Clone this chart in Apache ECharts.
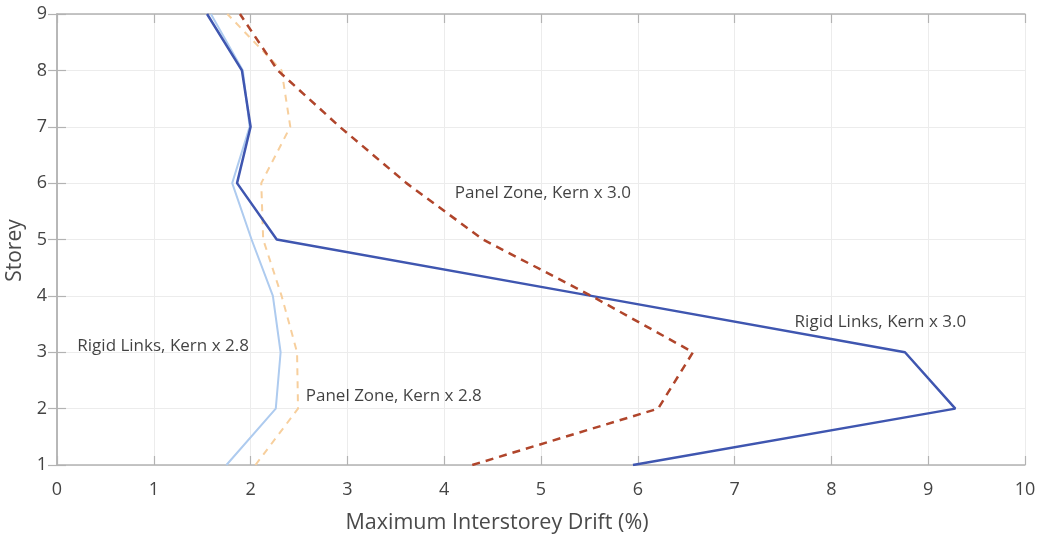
<!DOCTYPE html>
<html>
<head>
<meta charset="utf-8">
<script src="https://cdn.jsdelivr.net/npm/echarts@6/dist/echarts.min.js"></script>
<style>
html,body{margin:0;padding:0;background:#fff;}
#c{width:1037px;height:536px;}
</style>
</head>
<body>
<div id="c"></div>
<script>
// Storey levels
const storeys = [1, 2, 3, 4, 5, 6, 7, 8, 9];
// Maximum interstorey drift (%) per storey
const rigidLinks28 = [1.75, 2.26, 2.31, 2.23, 2.01, 1.81, 1.99, 1.92, 1.59];
const panelZone28  = [2.05, 2.49, 2.48, 2.32, 2.13, 2.11, 2.41, 2.32, 1.76];
const rigidLinks30 = [5.95, 9.28, 8.76, 5.52, 2.27, 1.86, 2.00, 1.91, 1.55];
const panelZone30  = [4.29, 6.21, 6.57, 5.52, 4.40, 3.61, 2.92, 2.28, 1.89];
// Annotation labels: [x, storey, text]
const annotations = [
  [4.11, 5.82, 'Panel Zone, Kern x 3.0'],
  [7.62, 3.53, 'Rigid Links, Kern x 3.0'],
  [0.21, 3.11, 'Rigid Links, Kern x 2.8'],
  [2.57, 2.22, 'Panel Zone, Kern x 2.8']
];
const xTicks = { min: 0, max: 10, interval: 1 };
const yTicks = { min: 1, max: 9, interval: 1 };

const pairs = (xs) => xs.map((v, i) => [v, storeys[i]]);
const FONT = '"Open Sans", "Noto Sans", sans-serif';
const axisGray = '#b3b3b3';

const chart = echarts.init(document.getElementById('c'), null, {renderer: 'canvas'});
const lineSeries = (name, data, color, width, type, z) => ({
  name, type: 'line', data: pairs(data), showSymbol: false, symbol: 'none',
  lineStyle: {color, width, type}, z, silent: true, animation: false
});

chart.setOption({
  animation: false,
  grid: {left: 57, right: 12, top: 14, bottom: 71, containLabel: false, outerBoundsMode: 'none'},
  xAxis: [{
    type: 'value', min: xTicks.min, max: xTicks.max, interval: xTicks.interval,
    name: 'Maximum Interstorey Drift (%)', nameLocation: 'middle', nameGap: 47,
    nameTextStyle: {fontFamily: FONT, fontSize: 21.5, color: '#4a4a4a', padding: [0, 88, 0, 0]},
    axisLine: {show: true, lineStyle: {color: axisGray, width: 1.5}},
    axisTick: {show: true, inside: true, length: 9, lineStyle: {color: axisGray, width: 1.2}},
    axisLabel: {fontFamily: FONT, fontSize: 18, color: '#444', margin: 16},
    splitLine: {show: true, lineStyle: {color: '#ececec', width: 1}}
  }, {
    type: 'value', position: 'top', min: xTicks.min, max: xTicks.max, interval: xTicks.interval,
    axisLine: {show: true, lineStyle: {color: axisGray, width: 1.5}},
    axisTick: {show: true, inside: true, length: 9, lineStyle: {color: axisGray, width: 1.2}},
    axisLabel: {show: false}, splitLine: {show: false}
  }],
  yAxis: [{
    type: 'value', min: yTicks.min, max: yTicks.max, interval: yTicks.interval,
    name: 'Storey', nameLocation: 'middle', nameGap: 26, nameRotate: 90,
    nameTextStyle: {fontFamily: FONT, fontSize: 21, color: '#4a4a4a', padding: [0, 22, 0, 0]},
    axisLine: {show: true, lineStyle: {color: axisGray, width: 1.5}},
    axisTick: {show: true, inside: true, length: 9, lineStyle: {color: axisGray, width: 1.2}},
    axisLabel: {fontFamily: FONT, fontSize: 18, color: '#444', margin: 10},
    splitLine: {show: true, lineStyle: {color: '#ececec', width: 1}}
  }, {
    type: 'value', position: 'right', min: yTicks.min, max: yTicks.max, interval: yTicks.interval,
    axisLine: {show: true, lineStyle: {color: axisGray, width: 1.5}},
    axisTick: {show: true, inside: true, length: 9, lineStyle: {color: axisGray, width: 1.2}},
    axisLabel: {show: false}, splitLine: {show: false}
  }],
  series: [
    lineSeries('Rigid Links, Kern x 2.8', rigidLinks28, '#aecbef', 2, 'solid', 2),
    lineSeries('Panel Zone, Kern x 2.8', panelZone28, '#f7cf9d', 2, [7, 6], 3),
    lineSeries('Rigid Links, Kern x 3.0', rigidLinks30, '#3f56b0', 2.5, 'solid', 4),
    lineSeries('Panel Zone, Kern x 3.0', panelZone30, '#b0452b', 2.5, [8, 6], 5),
    {
      name: 'labels', type: 'scatter', symbolSize: 0, silent: true, z: 6,
      data: annotations.map(a => ({value: [a[0], a[1]], name: a[2]})),
      label: {
        show: true, position: 'right', distance: 0,
        formatter: p => p.name,
        fontFamily: FONT, fontSize: 17, color: '#111'
      }
    }
  ]
});
</script>
</body>
</html>
